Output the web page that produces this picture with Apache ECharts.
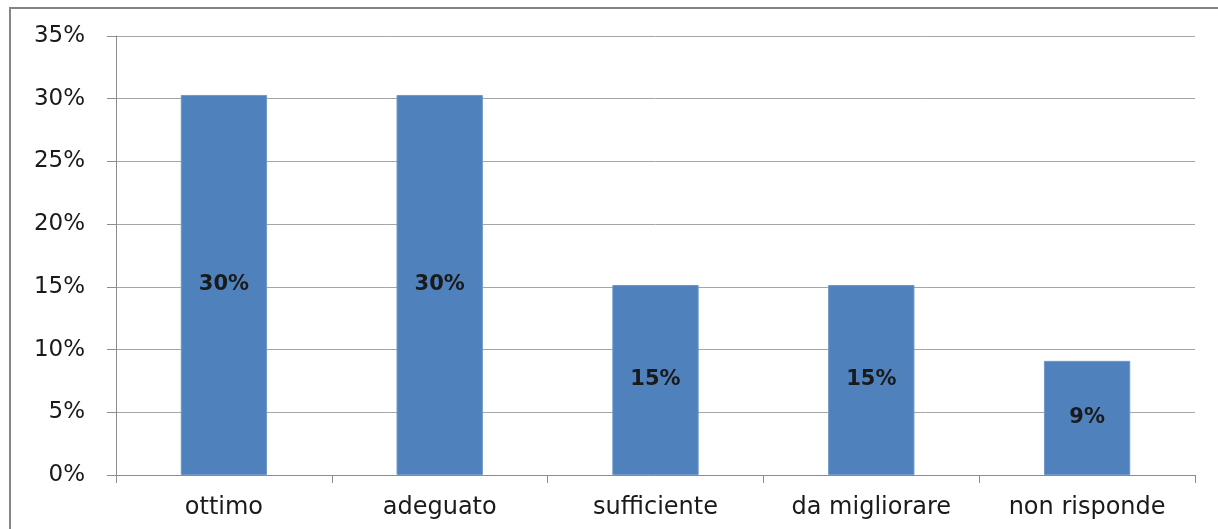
<!DOCTYPE html>
<html>
<head>
<meta charset="utf-8">
<script src="https://cdn.jsdelivr.net/npm/echarts@6/dist/echarts.min.js"></script>
<style>
  html, body { margin: 0; padding: 0; background: #ffffff; }
  #chart { width: 1218px; height: 529px; }
</style>
</head>
<body>
<div id="chart"></div>
<script>
// Survey answers, share of respondents (%)
const categories = ['ottimo', 'adeguato', 'sufficiente', 'da migliorare', 'non risponde'];
const shares = [30.3, 30.3, 15.15, 15.15, 9.1];
const yTicks = { min: 0, max: 35, step: 5 };

const FONT = 'DejaVu Sans';
const chart = echarts.init(document.getElementById('chart'), null, { renderer: 'canvas' });

chart.setOption({
  backgroundColor: '#ffffff',
  animation: false,
  graphic: [{
    // outer chart frame
    type: 'rect',
    shape: { x: 10, y: 8, width: 1300, height: 600 },
    style: { fill: 'none', stroke: '#858585', lineWidth: 2 },
    z: -1
  }],
  grid: { left: 116, right: 23, top: 36, bottom: 54, containLabel: false },
  xAxis: {
    type: 'category',
    data: categories,
    boundaryGap: true,
    axisLine: { show: true, lineStyle: { color: '#8c8c8c', width: 1 } },
    axisTick: { show: true, length: 8, interval: 0, alignWithLabel: false, lineStyle: { color: '#8c8c8c' } },
    axisLabel: { color: '#1a1a1a', fontFamily: FONT, fontSize: 24, margin: 21, interval: 0 },
    splitLine: { show: false }
  },
  yAxis: {
    type: 'value',
    min: yTicks.min,
    max: yTicks.max,
    interval: yTicks.step,
    axisLine: { show: true, lineStyle: { color: '#8c8c8c', width: 1 } },
    axisTick: { show: true, length: 9, lineStyle: { color: '#8c8c8c' } },
    axisLabel: {
      color: '#1a1a1a', fontFamily: FONT, fontSize: 23, margin: 31,
      formatter: v => v + '%'
    },
    splitLine: { show: true, lineStyle: { color: '#a6a6a6', width: 1 } }
  },
  series: [{
    type: 'bar',
    data: shares,
    barWidth: '40%',
    itemStyle: { color: '#4f81bd', borderColor: '#6f97c9', borderWidth: 1 },
    label: {
      show: true,
      position: 'inside',
      color: '#1a1a1a',
      fontFamily: FONT,
      fontWeight: 'bold',
      fontSize: 21,
      formatter: p => Math.round(p.value) + '%'
    }
  }]
});
</script>
</body>
</html>
